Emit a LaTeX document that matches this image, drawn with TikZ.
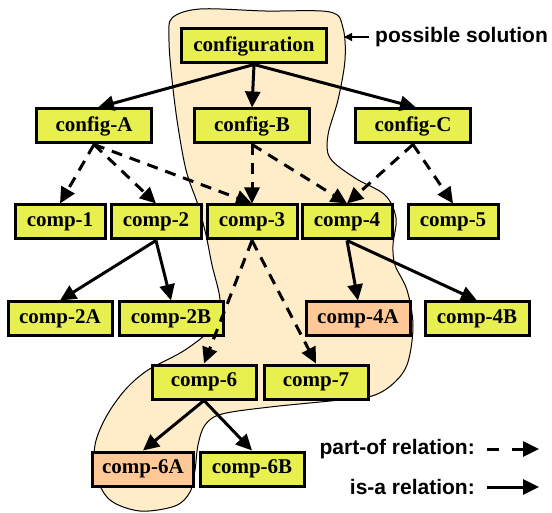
\documentclass[tikz,border=0pt]{standalone}
\usepackage{fontspec}
\setmainfont{Liberation Serif}
\newfontfamily\boxfont{Liberation Serif}
\newfontfamily\legendfont{Liberation Sans}
\usetikzlibrary{arrows.meta,shadows}
\definecolor{boxyellow}{RGB}{232,240,80}
\definecolor{boxorange}{RGB}{255,200,150}
\definecolor{blobfill}{RGB}{255,236,200}
\begin{document}
\begin{tikzpicture}[x=1pt,y=-1pt,
  box/.style={draw=black, line width=3pt, fill=boxyellow, minimum height=34pt, inner sep=0pt,
    drop shadow={shadow xshift=1.2pt, shadow yshift=-1.2pt, fill=black!35, draw=none, opacity=1},
    font=\boxfont\bfseries\fontsize{21}{25}\selectfont},
  sel/.style={box, fill=boxorange},
  isa/.style={line width=3pt, -{Triangle[length=16pt,width=15pt]}},
  partof/.style={isa, dash pattern=on 11pt off 8pt},
  lbl/.style={font=\legendfont\bfseries\fontsize{21}{25}\selectfont, inner sep=0pt}
]
\useasboundingbox (0,0) rectangle (552,513);
% solution region
\draw[fill=blobfill, line width=1pt] plot[smooth cycle, tension=0.55] coordinates {
 (172,18) (200,9) (265,11) (330,12) (343,28) (345,60) (338,100) (328,135)
 (330,158) (355,178) (385,195) (396,218) (393,245) (395,265) (407,290)
 (413,325) (408,362) (395,382) (372,396) (330,401) (270,407) (222,414)
 (205,425) (198,445) (195,470) (190,492) (175,506) (140,511) (110,500)
 (96,475) (95,445) (106,417) (125,390) (148,370) (185,350) (215,325)
 (220,300) (212,265) (206,235) (198,205) (186,170) (177,120) (171,70) (169,38)};

% nodes
\node[box, minimum width=145pt] (conf) at (254,46) {configuration};
\node[box, minimum width=115pt] (cA) at (94,126) {config-A};
\node[box, minimum width=115pt] (cB) at (252,126) {config-B};
\node[box, minimum width=115pt] (cC) at (413,126) {config-C};
\node[box, minimum width=90pt] (c1) at (60,222) {comp-1};
\node[box, minimum width=90pt] (c2) at (156,222) {comp-2};
\node[box, minimum width=90pt] (c3) at (252,222) {comp-3};
\node[box, minimum width=90pt] (c4) at (347,222) {comp-4};
\node[box, minimum width=90pt] (c5) at (453,222) {comp-5};
\node[box, minimum width=104pt] (c2A) at (60,319) {comp-2A};
\node[box, minimum width=104pt] (c2B) at (171,319) {comp-2B};
\node[sel, minimum width=104pt] (c4A) at (358,319) {comp-4A};
\node[box, minimum width=104pt] (c4B) at (477,319) {comp-4B};
\node[box, minimum width=104pt] (c6) at (204,382) {comp-6};
\node[box, minimum width=104pt] (c7) at (316,382) {comp-7};
\node[sel, minimum width=101pt] (c6A) at (143,469) {comp-6A};
\node[box, minimum width=104pt] (c6B) at (252,469) {comp-6B};

% is-a relations
\draw[isa] (conf.south) -- ([xshift=4pt]cA.north);
\draw[isa] (conf.south) -- (cB.north);
\draw[isa] (conf.south) -- ([xshift=3pt]cC.north);
\draw[isa] (c2.south) -- (c2A.north);
\draw[isa] (c2.south) -- (c2B.north);
\draw[isa] (c4.south) -- (c4A.north);
\draw[isa] (c4.south) -- (c4B.north);
\draw[isa] (c6.south) -- (c6A.north);
\draw[isa] (c6.south) -- (c6B.north);

% part-of relations
\draw[partof] (cA.south) -- (c1.north);
\draw[partof] (cA.south) -- (c2.north);
\draw[partof] (cA.south) -- (c3.north);
\draw[partof] (cB.south) -- (c3.north);
\draw[partof] (cB.south) -- (c4.north);
\draw[partof] (cC.south) -- (c4.north);
\draw[partof] (cC.south) -- (c5.north);
\draw[partof] (c3.south) -- (c6.north);
\draw[partof] (c3.south) -- (c7.north);

% labels and legend
\node[lbl, anchor=west] (sol) at (375,37) {possible solution};
\coordinate (solend) at (344,37);
\draw[line width=1.4pt, -{Triangle[length=8pt,width=8pt]}] ([xshift=-6pt]sol.west) -- (solend);

\node[lbl, anchor=east] (lp) at (475,449) {part-of relation:};
\node[lbl, anchor=east] (li) at (475,487) {is-a relation:};
\coordinate (lp1) at (487,449);
\coordinate (lp2) at (539,449);
\coordinate (li1) at (487,487);
\coordinate (li2) at (539,487);
\draw[partof, dash pattern=on 12pt off 13pt] (lp1) -- (lp2);
\draw[isa] (li1) -- (li2);
\end{tikzpicture}
\end{document}
